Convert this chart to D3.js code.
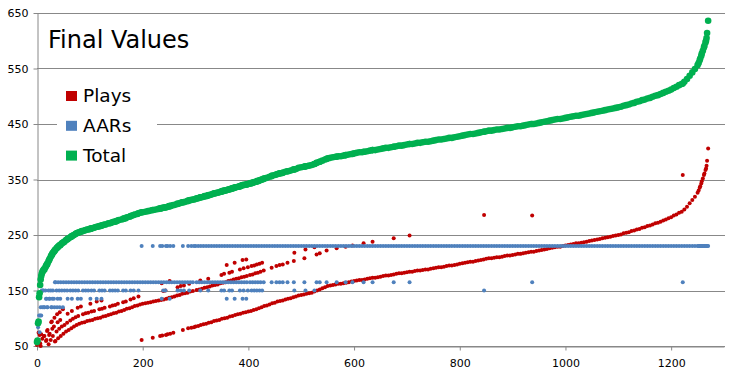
<!DOCTYPE html>
<html>
<head>
<meta charset="utf-8">
<script src="https://cdn.jsdelivr.net/npm/d3@7"></script>
<style>
  body { margin: 0; background: #fff; }
  text { font-family: "DejaVu Sans", Verdana, sans-serif; }
</style>
</head>
<body>
<div class="chart"></div>
<script>
var svgWidth = 736;
var svgHeight = 375;

// axis ticks
var xTicks = [0, 200, 400, 600, 800, 1000, 1200];
var yTicks = [50, 150, 250, 350, 450, 550, 650];

var seriesNames = ["Plays", "AARs", "Total"];
var seriesColors = ["#c00000", "#4f81bd", "#00b050"];

// row number of every point (x value)
var rowIndex = [
  0, 1, 2, 3, 4, 5, 6, 7, 8, 9, 10, 11,
  12, 14, 16, 18, 20, 22, 24, 26, 28, 30, 32, 34,
  35, 40, 45, 50, 55, 60, 65, 70, 75, 80, 85, 90, 95, 100, 105, 110, 115, 120, 125, 130, 135, 140, 145, 150,
  155, 160, 165, 170, 175, 180, 185, 190, 195, 200, 205, 210, 215, 220, 225, 230, 235, 240, 245, 250, 255, 260,
  265, 270, 275, 280, 285, 290, 295,
  300, 305, 310, 315, 320, 325, 330, 335, 340, 345, 350, 355, 360, 365, 370, 375, 380, 385, 390, 395,
  400, 405, 410, 415, 420, 425, 430, 435, 440, 445, 450, 455, 460, 465, 470, 475, 480, 485, 490, 495,
  500, 505, 510, 515, 520, 525, 530, 535, 540, 545, 550, 555, 560, 565, 570, 575, 580, 585, 590, 595,
  600, 605, 610, 615, 620, 625, 630, 635, 640, 645, 650, 655, 660, 665, 670, 675, 680, 685, 690, 695,
  700, 705, 710, 715, 720, 725, 730, 735, 740, 745, 750, 755, 760, 765, 770, 775, 780, 785, 790, 795,
  800, 805, 810, 815, 820, 825, 830, 835, 840, 845, 850, 855, 860, 865, 870, 875, 880, 885, 890, 895,
  900, 905, 910, 915, 920, 925, 930, 935, 940, 945, 950, 955, 960, 965, 970, 975, 980, 985, 990, 995,
  1000, 1005, 1010, 1015, 1020, 1025, 1030, 1035, 1040, 1045, 1050, 1055, 1060, 1065, 1070, 1075, 1080, 1085, 1090, 1095,
  1100, 1105, 1110, 1115, 1120, 1125, 1130, 1135, 1140, 1145, 1150, 1155, 1160, 1165, 1170, 1175, 1180, 1185, 1190, 1195,
  1200, 1205, 1210, 1215, 1220, 1225, 1230, 1235, 1240, 1245, 1250, 1255, 1260, 1265,
  198, 219, 233, 237, 244, 247, 252, 258, 276, 286, 292, 297,
  37, 42, 47, 52, 57, 63, 68, 73, 78, 87, 92, 97, 103, 108, 118, 123, 128, 138, 143, 148,
  153, 163, 168, 177, 183, 192, 239, 243, 266, 272, 278, 288, 309, 324, 349, 354, 364, 369, 384, 391,
  399, 406, 411, 416, 421, 426, 487, 508, 525, 846,
  17, 23, 29, 39, 44, 58, 66, 77, 83, 101, 113, 122, 236, 251, 359, 374, 389, 396,
  13, 19, 27, 33, 38, 43, 49,
  302, 307, 312, 317, 322, 327, 332, 337, 342, 347, 352, 357, 362, 367, 372, 377, 382, 387, 392, 397,
  403, 408, 413, 418, 423, 429, 444, 453, 459, 465, 474, 486, 506, 529, 535, 548, 567, 584, 597, 618,
  635, 675, 705, 937, 1222,
  1252, 1254, 1257, 1258, 1262, 1263, 1266, 1267, 1268, 1270
];

var plays = [
  52, 55, 7, 74, 33, 70, 55, 50, 71, 30, 63, 35,
  36, 68, 42, 61, 79, 53, 72, 61, 94, 68, 85, 58,
  59, 64, 68, 72, 76, 79, 82, 85, 88, 90, 92, 93, 95, 96, 97, 99, 100, 101, 103, 104, 106, 107, 109, 110,
  112, 113, 115, 117, 118, 120, 122, 123, 125, 126, 127, 128, 129, 130, 131, 132, 133, 134, 135, 137, 138, 139,
  141, 142, 144, 145, 146, 148, 149,
  85, 86, 88, 89, 90, 92, 93, 95, 96, 97, 99, 100, 101, 103, 104, 106, 107, 108, 110, 111,
  112, 113, 115, 116, 118, 120, 122, 123, 125, 127, 128, 130, 131, 132, 134, 135, 136, 138, 139, 141,
  142, 143, 144, 145, 146, 148, 150, 152, 154, 156, 158, 159, 160, 161, 162, 162, 163, 164, 165, 166,
  167, 168, 169, 169, 170, 171, 172, 173, 173, 174, 175, 176, 177, 177, 178, 179, 180, 181, 181, 182,
  183, 184, 184, 185, 186, 186, 187, 188, 188, 189, 190, 191, 192, 192, 193, 194, 195, 195, 196, 197,
  198, 199, 200, 201, 202, 202, 203, 204, 205, 206, 207, 208, 208, 209, 210, 210, 211, 212, 213, 213,
  214, 215, 216, 216, 217, 218, 219, 220, 220, 221, 222, 223, 224, 225, 226, 227, 228, 229, 229, 230,
  231, 232, 233, 234, 235, 235, 236, 237, 238, 239, 240, 241, 242, 243, 244, 245, 246, 247, 248, 249,
  250, 251, 253, 254, 255, 257, 258, 260, 261, 263, 264, 266, 267, 269, 271, 272, 274, 276, 278, 280,
  282, 285, 287, 290, 292, 296, 301, 307, 313, 319, 326, 338, 352, 367,
  61, 65, 68, 69, 70, 71, 72, 74, 79, 82, 83, 84,
  76, 81, 85, 88, 92, 96, 99, 102, 104, 107, 109, 110, 112, 113, 116, 117, 119, 121, 123, 124,
  126, 129, 130, 134, 136, 139, 149, 150, 156, 158, 159, 162, 168, 171, 178, 180, 182, 184, 188, 190,
  192, 194, 195, 197, 198, 200, 218, 224, 228, 286,
  59, 70, 81, 93, 97, 108, 113, 119, 121, 126, 130, 132, 163, 167, 196, 200, 205, 206,
  68, 77, 93, 101, 107, 111, 116,
  151, 152, 153, 155, 156, 157, 159, 160, 161, 163, 164, 165, 167, 168, 170, 171, 172, 174, 175, 176,
  178, 179, 181, 182, 184, 186, 191, 194, 196, 197, 200, 203, 208, 215, 217, 222, 226, 229, 231, 235,
  238, 244, 249, 285, 358,
  330, 335, 343, 347, 358, 361, 370, 375, 384, 406
];

var aars = [
  5, 5, 84, 20, 105, 75, 105, 120, 105, 150, 120, 150,
  150, 120, 150, 135, 120, 150, 135, 150, 120, 150, 135, 165,
  165, 165, 165, 165, 165, 165, 165, 165, 165, 165, 165, 165, 165, 165, 165, 165, 165, 165, 165, 165, 165, 165, 165, 165,
  165, 165, 165, 165, 165, 165, 165, 165, 165, 165, 165, 165, 165, 165, 165, 165, 165, 165, 165, 165, 165, 165,
  165, 165, 165, 165, 165, 165, 165,
  230, 230, 230, 230, 230, 230, 230, 230, 230, 230, 230, 230, 230, 230, 230, 230, 230, 230, 230, 230,
  230, 230, 230, 230, 230, 230, 230, 230, 230, 230, 230, 230, 230, 230, 230, 230, 230, 230, 230, 230,
  230, 230, 230, 230, 230, 230, 230, 230, 230, 230, 230, 230, 230, 230, 230, 230, 230, 230, 230, 230,
  230, 230, 230, 230, 230, 230, 230, 230, 230, 230, 230, 230, 230, 230, 230, 230, 230, 230, 230, 230,
  230, 230, 230, 230, 230, 230, 230, 230, 230, 230, 230, 230, 230, 230, 230, 230, 230, 230, 230, 230,
  230, 230, 230, 230, 230, 230, 230, 230, 230, 230, 230, 230, 230, 230, 230, 230, 230, 230, 230, 230,
  230, 230, 230, 230, 230, 230, 230, 230, 230, 230, 230, 230, 230, 230, 230, 230, 230, 230, 230, 230,
  230, 230, 230, 230, 230, 230, 230, 230, 230, 230, 230, 230, 230, 230, 230, 230, 230, 230, 230, 230,
  230, 230, 230, 230, 230, 230, 230, 230, 230, 230, 230, 230, 230, 230, 230, 230, 230, 230, 230, 230,
  230, 230, 230, 230, 230, 230, 230, 230, 230, 230, 230, 230, 230, 230,
  230, 230, 230, 230, 230, 230, 230, 230, 230, 230, 230, 230,
  150, 150, 150, 150, 150, 150, 150, 150, 150, 150, 150, 150, 150, 150, 150, 150, 150, 150, 150, 150,
  150, 150, 150, 150, 150, 150, 150, 150, 150, 150, 150, 150, 150, 150, 150, 150, 150, 150, 150, 150,
  150, 150, 150, 150, 150, 150, 150, 150, 150, 150,
  135, 135, 135, 135, 135, 135, 135, 135, 135, 135, 135, 135, 135, 135, 135, 135, 135, 135,
  120, 120, 120, 120, 120, 120, 120,
  165, 165, 165, 165, 165, 165, 165, 165, 165, 165, 165, 165, 165, 165, 165, 165, 165, 165, 165, 165,
  165, 165, 165, 165, 165, 165, 165, 165, 165, 165, 165, 165, 165, 165, 165, 165, 165, 165, 165, 165,
  165, 165, 165, 165, 165,
  230, 230, 230, 230, 230, 230, 230, 230, 230, 230
];

var totals = [
  57, 60, 91, 94, 138, 145, 160, 170, 176, 180, 183, 185,
  186, 188, 192, 196, 199, 203, 207, 211, 214, 218, 220, 223,
  224, 229, 233, 237, 241, 244, 247, 250, 253, 255, 257, 258, 260, 261, 262, 264, 265, 266, 268, 269, 271, 272, 274, 275,
  277, 278, 280, 282, 283, 285, 287, 288, 290, 291, 292, 293, 294, 295, 296, 297, 298, 299, 300, 302, 303, 304,
  306, 307, 309, 310, 311, 313, 314,
  315, 316, 318, 319, 320, 322, 323, 325, 326, 327, 329, 330, 331, 333, 334, 336, 337, 338, 340, 341,
  342, 343, 345, 346, 348, 350, 352, 353, 355, 357, 358, 360, 361, 362, 364, 365, 366, 368, 369, 371,
  372, 373, 374, 375, 376, 378, 380, 382, 384, 386, 388, 389, 390, 391, 392, 392, 393, 394, 395, 396,
  397, 398, 399, 399, 400, 401, 402, 403, 403, 404, 405, 406, 407, 407, 408, 409, 410, 411, 411, 412,
  413, 414, 414, 415, 416, 416, 417, 418, 418, 419, 420, 421, 422, 422, 423, 424, 425, 425, 426, 427,
  428, 429, 430, 431, 432, 432, 433, 434, 435, 436, 437, 438, 438, 439, 440, 440, 441, 442, 443, 443,
  444, 445, 446, 446, 447, 448, 449, 450, 450, 451, 452, 453, 454, 455, 456, 457, 458, 459, 459, 460,
  461, 462, 463, 464, 465, 465, 466, 467, 468, 469, 470, 471, 472, 473, 474, 475, 476, 477, 478, 479,
  480, 481, 483, 484, 485, 487, 488, 490, 491, 493, 494, 496, 497, 499, 501, 502, 504, 506, 508, 510,
  512, 515, 517, 520, 522, 526, 531, 537, 543, 549, 556, 568, 582, 597,
  291, 295, 298, 299, 300, 301, 302, 304, 309, 312, 313, 314,
  226, 231, 235, 238, 242, 246, 249, 252, 254, 257, 259, 260, 262, 263, 266, 267, 269, 271, 273, 274,
  276, 279, 280, 284, 286, 289, 299, 300, 306, 308, 309, 312, 318, 321, 328, 330, 332, 334, 338, 340,
  342, 344, 345, 347, 348, 350, 368, 374, 378, 436,
  194, 205, 216, 228, 232, 243, 248, 254, 256, 261, 265, 267, 298, 302, 331, 335, 340, 341,
  188, 197, 213, 221, 227, 231, 236,
  316, 317, 318, 320, 321, 322, 324, 325, 326, 328, 329, 330, 332, 333, 335, 336, 337, 339, 340, 341,
  343, 344, 346, 347, 349, 351, 356, 359, 361, 362, 365, 368, 373, 380, 382, 387, 391, 394, 396, 400,
  403, 409, 414, 450, 523,
  560, 565, 573, 577, 588, 591, 600, 605, 614, 636
];

var svg = d3.select(".chart")
  .append("svg")
  .attr("width", svgWidth)
  .attr("height", svgHeight)
  .style("display", "block")
  .style("background", "#fff");

var xScale = d3.scaleLinear().domain([0, 1300]).range([37, 724]);
var yScale = d3.scaleLinear().domain([50, 650]).range([346, 13]);

// gridlines
svg.append("g")
  .selectAll("line")
  .data(yTicks)
  .enter()
  .append("line")
  .attr("x1", 37)
  .attr("x2", 725)
  .attr("y1", d => Math.round(yScale(d)) + 0.5)
  .attr("y2", d => Math.round(yScale(d)) + 0.5)
  .attr("stroke", "#888")
  .attr("stroke-width", 1);

// y axis
var leftAxis = d3.axisLeft(yScale).tickValues(yTicks).tickSize(4).tickPadding(5).tickSizeOuter(0);
var yAxis = svg.append("g")
  .attr("transform", "translate(37.5, 0)")
  .call(leftAxis);

// x axis
var bottomAxis = d3.axisBottom(xScale)
  .tickValues(xTicks)
  .tickFormat(d3.format("d"))
  .tickSize(4)
  .tickPadding(9)
  .tickSizeOuter(0);
var xAxis = svg.append("g")
  .attr("transform", "translate(0, 346.5)")
  .call(bottomAxis);

[xAxis, yAxis].forEach(function(ax) {
  ax.selectAll("path, line").attr("stroke", "#888");
  ax.selectAll("text")
    .attr("fill", "#000")
    .style("font-size", "11px")
    .style("font-family", "'DejaVu Sans', Verdana, sans-serif");
});

// one row per point
var rows = rowIndex.map(function(d, i) {
  return { idx: d, values: [plays[i], aars[i], totals[i]] };
});

var radius = [2, 2, 3.3];

seriesNames.forEach(function(name, s) {
  svg.append("g")
    .attr("class", "series-" + name)
    .selectAll("circle")
    .data(rows.filter(r => r.values[s] >= 50 && r.values[s] <= 650))
    .enter()
    .append("circle")
    .attr("cx", d => xScale(d.idx))
    .attr("cy", d => yScale(d.values[s]))
    .attr("r", radius[s])
    .attr("fill", seriesColors[s]);
});

// title
svg.append("text")
  .attr("x", 48)
  .attr("y", 48)
  .style("font-size", "24px")
  .attr("fill", "#000")
  .text("Final Values");

// legend
var legend = svg.append("g");
legend.append("rect")
  .attr("x", 57)
  .attr("y", 80)
  .attr("width", 100)
  .attr("height", 92)
  .attr("fill", "#fff");

var legendItems = legend.selectAll("g.item")
  .data(seriesNames)
  .enter()
  .append("g")
  .attr("class", "item")
  .attr("transform", (d, i) => `translate(0, ${i * 29.8})`);

legendItems.append("rect")
  .attr("x", 66)
  .attr("y", 91)
  .attr("width", 11)
  .attr("height", 10)
  .attr("fill", (d, i) => seriesColors[i]);

legendItems.append("text")
  .attr("x", 83)
  .attr("y", 102)
  .style("font-size", "18.5px")
  .attr("fill", "#000")
  .text(d => d);
</script>
</body>
</html>
